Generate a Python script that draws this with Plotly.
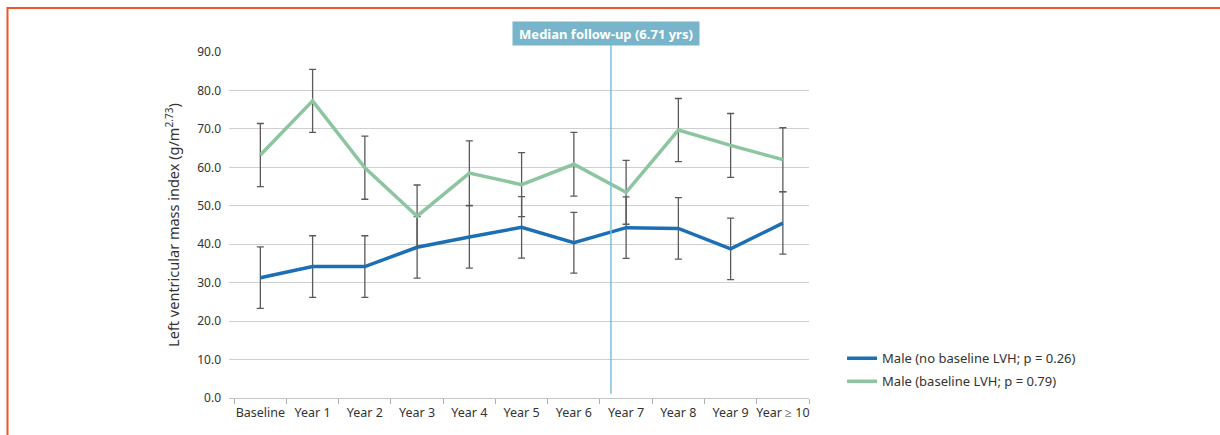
import plotly.graph_objects as go

# Category labels along the follow-up axis
categories = ["Baseline", "Year 1", "Year 2", "Year 3", "Year 4", "Year 5",
              "Year 6", "Year 7", "Year 8", "Year 9", "Year \u2265 10"]

# Left ventricular mass index (g/m^2.73), males without baseline LVH
no_lvh_mean = [31.3, 34.2, 34.2, 39.2, 41.9, 44.4, 40.4, 44.3, 44.1, 38.8, 45.5]
no_lvh_err = [8.0, 8.0, 8.0, 8.0, 8.1, 8.0, 7.9, 8.0, 8.0, 8.0, 8.1]

# Males with baseline LVH
lvh_mean = [63.2, 77.3, 59.9, 47.3, 58.5, 55.5, 60.8, 53.5, 69.7, 65.7, 62.0]
lvh_err = [8.2, 8.2, 8.2, 8.1, 8.4, 8.3, 8.3, 8.3, 8.2, 8.3, 8.3]

legend_names = ["Male (no baseline LVH; p = 0.26)", "Male (baseline LVH; p = 0.79)"]
median_followup = 6.71
y_ticks = [0, 10, 20, 30, 40, 50, 60, 70, 80, 90]

BLUE = "#1c6fb5"
GREEN = "#8cc5a0"
ERR = "#5a5a5a"
FONT = "Noto Sans"

x_idx = list(range(len(categories)))

fig = go.Figure()
for i, (name, mean, err, color) in enumerate([
    (legend_names[0], no_lvh_mean, no_lvh_err, BLUE),
    (legend_names[1], lvh_mean, lvh_err, GREEN),
]):
    fig.add_trace(go.Scatter(
        x=x_idx, y=mean, name=name, mode="lines", legendgroup=f"g{i}",
        line=dict(color=color, width=3.5),
        error_y=dict(type="data", array=err, visible=True,
                     color=ERR, thickness=1.3, width=3.5),
    ))

# Median follow-up marker line
fig.add_shape(type="line", xref="x", yref="paper",
              x0=median_followup, x1=median_followup, y0=0.012, y1=1.02,
              line=dict(color="#7cbfdc", width=1.5))
fig.add_annotation(x=median_followup, xref="x", y=1.054, yref="paper",
                   xshift=-5,
                   text="<b>Median follow-up (6.71 yrs)</b>", showarrow=False,
                   font=dict(family=FONT, size=13, color="white"),
                   bgcolor="#78b5cb", width=184, height=21,
                   xanchor="center", yanchor="middle")

# Orange frame along the top and left edges
fig.add_shape(type="path", xref="paper", yref="paper",
              path="M -0.3819,-0.2 L -0.3819,1.127 L 1.8,1.127",
              line=dict(color="#e8582b", width=2))

fig.update_layout(
    width=1220, height=435,
    margin=dict(l=229, r=411, t=52, b=37),
    paper_bgcolor="white", plot_bgcolor="white",
    font=dict(family=FONT, size=12, color="#333333"),
    showlegend=True,
    legend=dict(x=1.057, y=0.158, xanchor="left", yanchor="top",
                font=dict(family=FONT, size=13, color="#333333"),
                bgcolor="rgba(0,0,0,0)", tracegroupgap=3),
)
fig.update_xaxes(
    range=[-0.6, 10.5], tickmode="array", tickvals=x_idx, ticktext=categories,
    ticks="", showgrid=False, zeroline=False, ticklabelstandoff=3,
    showline=True, linecolor="#c4c4c4", linewidth=1,
    tickfont=dict(family=FONT, size=12.5, color="#333333"),
    minor=dict(tickmode="linear", tick0=-0.5, dtick=1, ticks="outside",
               ticklen=5, tickcolor="#b0b0b0", tickwidth=1, showgrid=False),
)
fig.update_yaxes(
    range=[0, 90], tickvals=y_ticks, tickformat=".1f",
    showgrid=True, gridcolor="#cfcfcf", gridwidth=1, zeroline=False,
    showline=False, ticks="", ticklabelstandoff=7,
    tickfont=dict(family=FONT, size=12, color="#333333"),
    title=dict(text="Left ventricular mass index (g/m<sup>2.73</sup>)",
               font=dict(family=FONT, size=14.5, color="#333333"), standoff=14),
)

fig.write_html("out.html")
